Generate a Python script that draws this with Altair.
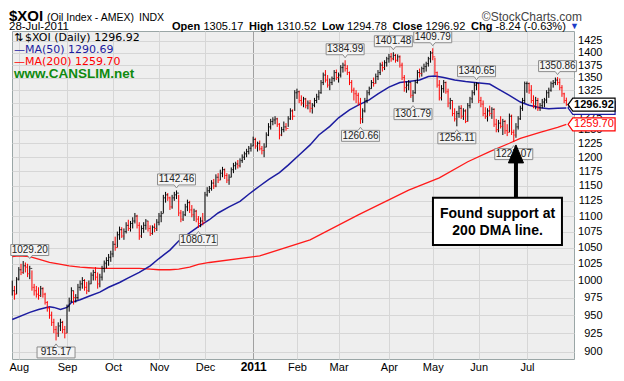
import altair as alt
import pandas as pd
import numpy as np

# ---------------- data ----------------
holidays = ["2010-09-06", "2010-11-25", "2010-12-24", "2011-01-17",
            "2011-02-21", "2011-04-22", "2011-05-30", "2011-07-04"]
dates = pd.bdate_range("2010-07-28", "2011-07-28", freq="C", holidays=holidays)

high = [
    1000, 992, 1005, 1020, 1025, 1029.2, 1027, 1025, 1022, 1015,
    995, 992, 990, 992, 990, 982, 970, 962, 955, 945,
    935, 940, 945, 942, 935, 965, 975, 990, 985, 980,
    995, 1000, 1005, 1002, 998, 1000, 1012, 1016, 1020, 1012,
    1010, 1022, 1030, 1035, 1040, 1045, 1060, 1067, 1075, 1083,
    1082, 1080, 1090, 1094, 1092, 1098, 1105, 1102, 1090, 1085,
    1090, 1095, 1092, 1085, 1085, 1088, 1095, 1105, 1108, 1135,
    1140, 1138, 1132, 1135, 1140, 1142.46, 1135, 1110, 1108, 1120,
    1127, 1125, 1118, 1112, 1110, 1100, 1098, 1105, 1140, 1148,
    1150, 1160, 1162, 1170, 1172, 1178, 1183, 1180, 1172, 1170,
    1182, 1190, 1192, 1195, 1198, 1205, 1210, 1215, 1220, 1225,
    1237, 1235, 1228, 1230, 1220, 1225, 1245, 1262, 1270, 1273,
    1275, 1272, 1262, 1255, 1265, 1262, 1275, 1290, 1288, 1325,
    1328, 1324, 1315, 1312, 1310, 1305, 1306, 1300, 1310, 1318,
    1325, 1345, 1360, 1365, 1355, 1348, 1352, 1365, 1366, 1360,
    1375, 1380, 1384.99, 1375, 1362, 1345, 1330, 1325, 1320, 1310,
    1290, 1310, 1325, 1332, 1345, 1350, 1358, 1365, 1380, 1382,
    1385, 1392, 1398, 1400, 1401.48, 1398, 1397, 1395, 1380, 1355,
    1342, 1345, 1340, 1325, 1345, 1365, 1368, 1372, 1378, 1382,
    1392, 1404, 1409.79, 1390, 1362, 1345, 1335, 1345, 1342, 1328,
    1310, 1305, 1290, 1285, 1295, 1296, 1290, 1288, 1300, 1312,
    1325, 1340, 1340.65, 1338, 1312, 1305, 1292, 1290, 1295, 1292,
    1290, 1270, 1268, 1275, 1270, 1268, 1260, 1280, 1278, 1250,
    1262, 1275, 1295, 1310, 1342, 1342, 1340, 1335, 1315, 1312,
    1310, 1300, 1308, 1310, 1325, 1330, 1342, 1345, 1350, 1350.86,
    1348, 1335, 1320, 1310.52,
]
low = [
    978, 972, 980, 1000, 1008, 1010, 1012, 1005, 1002, 985,
    978, 975, 972, 976, 975, 965, 955, 945, 935, 925,
    915.17, 920, 928, 925, 918, 925, 955, 968, 965, 968,
    972, 985, 988, 985, 980, 983, 995, 1000, 1000, 988,
    990, 1000, 1012, 1018, 1022, 1028, 1035, 1045, 1050, 1062,
    1065, 1062, 1072, 1076, 1075, 1080, 1088, 1080, 1062, 1065,
    1073, 1078, 1075, 1068, 1070, 1074, 1076, 1085, 1090, 1105,
    1122, 1125, 1110, 1112, 1125, 1128, 1100, 1090, 1092, 1100,
    1108, 1105, 1098, 1092, 1090, 1080.71, 1082, 1085, 1092, 1132,
    1138, 1142, 1145, 1148, 1155, 1160, 1165, 1162, 1155, 1152,
    1165, 1172, 1178, 1180, 1182, 1190, 1195, 1200, 1205, 1210,
    1220, 1215, 1210, 1212, 1205, 1200, 1218, 1238, 1250, 1258,
    1260, 1255, 1232, 1238, 1245, 1248, 1255, 1268, 1268, 1285,
    1308, 1300, 1295, 1292, 1290, 1288, 1282, 1280, 1292, 1300,
    1306, 1318, 1335, 1340, 1330, 1325, 1335, 1342, 1345, 1340,
    1350, 1360, 1362, 1355, 1335, 1320, 1305, 1300, 1295, 1260.66,
    1262, 1282, 1300, 1315, 1328, 1332, 1338, 1345, 1355, 1362,
    1365, 1372, 1380, 1382, 1385, 1380, 1382, 1370, 1345, 1322,
    1320, 1325, 1310, 1301.79, 1318, 1338, 1350, 1352, 1360, 1362,
    1372, 1380, 1385, 1355, 1330, 1305, 1305, 1320, 1318, 1292,
    1288, 1275, 1265, 1256.11, 1272, 1270, 1268, 1262, 1265, 1290,
    1300, 1315, 1325, 1300, 1292, 1275, 1270, 1265, 1275, 1270,
    1255, 1245, 1245, 1252, 1240, 1242, 1238, 1245, 1240, 1227.07,
    1235, 1250, 1268, 1285, 1300, 1320, 1318, 1300, 1290, 1288,
    1285, 1285, 1290, 1292, 1300, 1310, 1322, 1330, 1335, 1335,
    1325, 1312, 1300, 1294.78,
]
close = [
    985, 980, 1002, 1016, 1012, 1022, 1020, 1010, 1018, 990,
    985, 980, 978, 988, 980, 968, 960, 950, 940, 930,
    925, 935, 940, 930, 925, 962, 970, 985, 975, 975,
    990, 995, 1000, 990, 985, 995, 1008, 1012, 1005, 995,
    1005, 1018, 1026, 1030, 1035, 1040, 1055, 1050, 1070, 1078,
    1068, 1075, 1085, 1080, 1088, 1092, 1100, 1085, 1068, 1080,
    1085, 1092, 1080, 1072, 1082, 1080, 1090, 1100, 1104, 1130,
    1135, 1130, 1115, 1130, 1135, 1138, 1105, 1095, 1102, 1115,
    1122, 1110, 1102, 1108, 1095, 1088, 1092, 1090, 1135, 1142,
    1146, 1155, 1150, 1165, 1160, 1172, 1178, 1168, 1160, 1165,
    1178, 1185, 1188, 1185, 1194, 1200, 1206, 1210, 1216, 1220,
    1232, 1220, 1225, 1215, 1212, 1218, 1240, 1255, 1265, 1268,
    1270, 1260, 1240, 1250, 1255, 1252, 1270, 1285, 1275, 1320,
    1322, 1305, 1300, 1308, 1295, 1300, 1290, 1296, 1305, 1312,
    1320, 1340, 1355, 1345, 1335, 1340, 1348, 1360, 1350, 1355,
    1370, 1375, 1368, 1360, 1340, 1325, 1318, 1315, 1300, 1270,
    1285, 1305, 1320, 1328, 1340, 1338, 1352, 1360, 1375, 1370,
    1380, 1388, 1392, 1388, 1395, 1385, 1392, 1375, 1350, 1330,
    1335, 1340, 1315, 1320, 1340, 1360, 1358, 1368, 1372, 1378,
    1388, 1400, 1392, 1360, 1335, 1310, 1328, 1340, 1322, 1300,
    1305, 1280, 1270, 1280, 1290, 1275, 1285, 1265, 1295, 1308,
    1320, 1335, 1338, 1305, 1298, 1280, 1275, 1285, 1280, 1288,
    1260, 1250, 1262, 1256, 1265, 1248, 1245, 1275, 1245, 1240,
    1255, 1270, 1290, 1305, 1338, 1338, 1325, 1305, 1295, 1305,
    1290, 1295, 1302, 1306, 1320, 1325, 1338, 1340, 1345, 1340,
    1330, 1318, 1305, 1296.92,
]

ma50_idx = [0, 8, 12, 17, 19, 22, 25, 27, 31, 35, 40, 44, 49, 53, 58, 63, 67, 72,
            76, 81, 85, 90, 94, 99, 104, 108, 113, 117, 122, 126, 131, 136, 140,
            145, 149, 154, 158, 163, 167, 172, 177, 181, 186, 190, 193, 197, 202,
            207, 211, 218, 222, 227, 232, 236, 241, 245, 249, 253]
ma50_val = [944, 954, 958, 962, 961, 958, 961, 968, 972, 977, 983, 990, 997, 1004,
            1012, 1022, 1033, 1046, 1060, 1073, 1083, 1094, 1105, 1115, 1124, 1136,
            1150, 1161, 1173, 1186, 1204, 1222, 1240, 1256, 1272, 1287, 1296, 1306,
            1318, 1331, 1340, 1342, 1345, 1352, 1353, 1350, 1345, 1342, 1340, 1337,
            1327, 1315, 1302, 1296, 1291, 1289, 1290, 1290.69]

ma200_idx = [0, 3, 8, 12, 17, 21, 26, 31, 35, 40, 49, 58, 63, 67, 72, 76, 81, 85,
             90, 113, 136, 158, 181, 195, 208, 218, 227, 232, 241, 249, 253]
ma200_val = [1036, 1037, 1036, 1032, 1027, 1025, 1022, 1020, 1019, 1018, 1018, 1018,
             1017, 1016, 1016, 1017, 1020, 1024, 1027, 1037, 1062, 1102, 1143, 1164,
             1192, 1210, 1225, 1234, 1245, 1254, 1259.7]

# label anchor (bar index), value, and side of the bar
mark_idx = [8, 20, 75, 85, 152, 159, 174, 192, 183, 203, 212, 249, 229]
mark_val = [1029.20, 915.17, 1142.46, 1080.71, 1384.99, 1260.66, 1401.48, 1409.79,
            1301.79, 1256.11, 1340.65, 1350.86, 1227.07]
mark_side = ["above", "below", "above", "below", "above", "below", "above", "above",
             "below", "below", "above", "above", "below"]

hdr_labels = ["Open", "High", "Low", "Close", "Chg"]
hdr_values = ["1305.17", "1310.52", "1294.78", "1296.92", "-8.24 (-0.63%)"]

# ---------------- frames ----------------
n = min(len(dates), len(high), len(low), len(close))
df = pd.DataFrame({"i": np.arange(n), "date": dates[:n], "high": high[:n],
                   "low": low[:n], "close": close[:n]})
prev = df["close"].shift(1).fillna(df["close"].iloc[0] - 1)
df["dir"] = np.where(df["close"] >= prev, "up", "down")

first = df.groupby(df["date"].dt.to_period("M"))["i"].min()
first = first[first > 0]
tick_vals = [int(v) for v in first.values]
tick_names = ["2011" if p.month == 1 else p.strftime("%b") for p in first.index]
year_tick = tick_vals[tick_names.index("2011")]
label_expr = "".join(f"datum.value == {v} ? '{nm}' : " for v, nm in zip(tick_vals, tick_names)) + "''"

ma50 = pd.DataFrame({"i": ma50_idx, "v": ma50_val})
ma200 = pd.DataFrame({"i": ma200_idx, "v": ma200_val})
marks = pd.DataFrame({"i": mark_idx, "v": mark_val, "side": mark_side})
marks["t"] = marks["v"].map(lambda x: f"{x:.2f}")
above = marks[marks["side"] == "above"]
below = marks[marks["side"] == "below"]

FONT = "Liberation Sans"
xs = alt.Scale(domain=[-0.11, 256.5], nice=False, zero=False)
ys = alt.Scale(type="log", domain=[890.4, 1446.2], nice=False)

xaxis = alt.Axis(values=tick_vals, labelExpr=label_expr, title=None, grid=True,
                 gridColor={"condition": {"test": f"datum.value == {year_tick}", "value": "#a0a0a0"},
                            "value": "#d6d6d6"},
                 labelFontWeight={"condition": {"test": f"datum.value == {year_tick}", "value": "bold"},
                                  "value": "normal"},
                 labelFontSize={"condition": {"test": f"datum.value == {year_tick}", "value": 12},
                                "value": 11},
                 labelFont=FONT, labelColor="#000", domain=False, ticks=False,
                 labelPadding=2, labelFlush=False)
yaxis = alt.Axis(orient="right", values=list(range(900, 1426, 25)), format="d", title=None,
                 grid=True, gridColor="#d6d6d6", labelFont=FONT, labelFontSize=11,
                 labelColor="#000", labelAlign="right", labelPadding=28, tickSize=0,
                 domain=False, ticks=False, labelFlush=False)


def X(f):
    return alt.X(f, type="quantitative", scale=xs, axis=xaxis)


def Y(f):
    return alt.Y(f, type="quantitative", scale=ys, axis=yaxis)


col = alt.Color("dir:N", scale=alt.Scale(domain=["up", "down"], range=["#000000", "#ff0000"]), legend=None)

l_ma200 = alt.Chart(ma200).mark_line(color="#ff1a1a", strokeWidth=1.3).encode(x=X("i"), y=Y("v"))
l_ma50 = alt.Chart(ma50).mark_line(color="#1c1ca0", strokeWidth=1.5).encode(x=X("i"), y=Y("v"))
l_bars = alt.Chart(df).mark_rule(strokeWidth=1).encode(x=X("i"), y=Y("low"), y2="high", color=col)
l_ticks = alt.Chart(df).mark_tick(orient="horizontal", size=2, thickness=1, xOffset=1.5).encode(
    x=X("i"), y=Y("close"), color=col)

P_ABOVE = "M-1,-0.289L1,-0.289L1,0.289L0.12,0.289L0,0.45L-0.12,0.289L-1,0.289Z"
P_BELOW = "M-1,0.289L1,0.289L1,-0.289L0.12,-0.289L0,-0.45L-0.12,-0.289L-1,-0.289Z"


def label_layers(d, path, off):
    box = alt.Chart(d).mark_point(shape=path, size=1444, filled=True, fill="#f4f4f4",
                                  stroke="#8c8c8c", strokeWidth=1, opacity=1, yOffset=off).encode(
        x=X("i"), y=Y("v"))
    txt = alt.Chart(d).mark_text(font=FONT, fontSize=10, color="#222", yOffset=off,
                                 align="center", baseline="middle").encode(x=X("i"), y=Y("v"), text="t:N")
    return [box, txt]


# right-side price tags
tags = pd.DataFrame({"i": [253.8, 253.8, 253.8], "v": [1290.69, 1296.92, 1259.70],
                     "t": ["1290.69", "1296.92", "1259.70"], "k": ["ma50", "last", "ma200"]})
P_TAG = "M0,0L0.2,-0.277L2,-0.277L2,0.277L0.2,0.277Z"
tag_layers = []
for k, strk, tcol, wt in [("ma50", "#1c1ca0", "#1c1ca0", "normal"), ("last", "#000", "#000", "bold"),
                          ("ma200", "#ff0000", "#ff0000", "normal")]:
    d = tags[tags["k"] == k]
    tag_layers.append(alt.Chart(d).mark_point(shape=P_TAG, size=2209, filled=True, fill="#ffffff",
                                              stroke=strk, strokeWidth=1.2, opacity=1).encode(x=X("i"), y=Y("v")))
    tag_layers.append(alt.Chart(d).mark_text(font=FONT, fontSize=11, fontWeight=wt, color=tcol,
                                             align="left", baseline="middle", xOffset=6).encode(
        x=X("i"), y=Y("v"), text="t:N"))

# support annotation
box_df = pd.DataFrame({"x1": [192.1], "x2": [251.0], "y1": [1130], "y2": [1054]})
l_box = alt.Chart(box_df).mark_rect(fill="#ffffff", stroke="#000", strokeWidth=2).encode(
    x=X("x1"), x2="x2", y=Y("y1"), y2="y2")
note_df = pd.DataFrame({"i": [221.6, 221.6], "v": [1103.7, 1076], "t": ["Found support at", "200 DMA line."]})
l_note = alt.Chart(note_df).mark_text(font=FONT, fontSize=14, fontWeight="bold", color="#000",
                                      align="center", baseline="middle").encode(x=X("i"), y=Y("v"), text="t:N")
shaft_df = pd.DataFrame({"i": [230], "a": [1208], "b": [1130]})
l_shaft = alt.Chart(shaft_df).mark_rule(color="#000", strokeWidth=4).encode(x=X("i"), y=Y("a"), y2="b")
head_df = pd.DataFrame({"i": [230], "v": [1222]})
l_head = alt.Chart(head_df).mark_point(shape="M0,0L0.42,1L-0.42,1Z", size=1296, filled=True,
                                       fill="#000", stroke="#000", strokeWidth=1, opacity=1).encode(
    x=X("i"), y=Y("v"))


def txt(s, x, y, size=11, weight="normal", color="#000", align="left", font=FONT, baseline="alphabetic"):
    return alt.Chart(pd.DataFrame({"t": [s]})).mark_text(
        font=font, fontSize=size, fontWeight=weight, color=color, align=align, baseline=baseline).encode(
        x=alt.value(x), y=alt.value(y), text="t:N")


texts = [
    txt("$XOI", -3, -10, size=15, weight="bold"),
    txt("(Oil Index - AMEX)", 35, -10, size=10.5),
    txt("INDX", 127, -10, size=10.5),
    txt("©StockCharts.com", 570, -10, size=12, color="#444", align="right"),
    txt("28-Jul-2011", -3, -1.5, size=11.5),
]
hx_lab = [160, 237, 310, 380.5, 459]
hx_val = [191.5, 264.5, 335, 413.5, 483.5]
for lab, val, a, b in zip(hdr_labels, hdr_values, hx_lab, hx_val):
    texts.append(txt(lab, a, -1.5, size=11, weight="bold"))
    texts.append(txt(val, b, -1.5, size=11))
texts.append(txt("▼", 558, -2, size=9, color="#1c3cc8"))

# legend inside plot
texts += [
    txt("⇅", 2, 7, size=11, font="DejaVu Sans", baseline="middle"),
    txt("$XOI (Daily) 1296.92", 13, 7, size=11, font="DejaVu Sans", baseline="middle"),
    txt("—MA(50) 1290.69", 2, 19, size=11, font="DejaVu Sans", color="#1c1ca0", baseline="middle"),
    txt("—MA(200) 1259.70", 2, 31, size=11, font="DejaVu Sans", color="#ff0000", baseline="middle"),
    txt("www.CANSLIM.net", 2, 43, size=13.5, weight="bold", color="#0f8a0f", baseline="middle"),
]

layers = [l_ma200, l_ma50, l_bars, l_ticks]
layers += label_layers(above, P_ABOVE, -11)
layers += label_layers(below, P_BELOW, 12)
layers += [l_shaft, l_head, l_box, l_note]
layers += tag_layers
layers += texts

chart = alt.layer(*layers).properties(
    width=562, height=328,
    autosize=alt.AutoSizeParams(type="none"),
    padding={"left": 4, "top": 23, "right": 42, "bottom": 14},
    background="#ffffff",
).configure_view(fill="#eeeeee", stroke="#9aa6a6", strokeWidth=1)

chart.save("out.html", embed_options={"renderer": "svg", "actions": False})
